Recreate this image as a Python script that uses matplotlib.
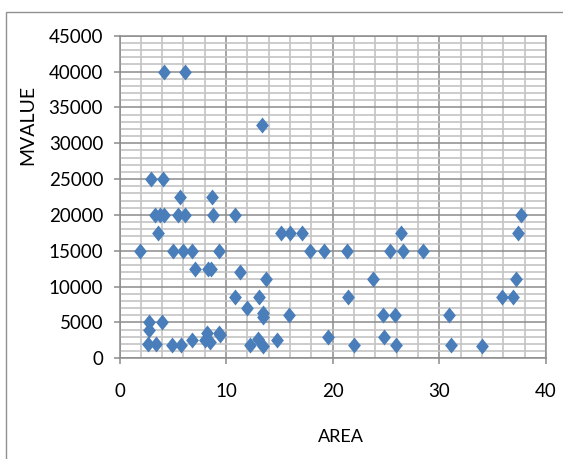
import matplotlib
matplotlib.use("Agg")
import matplotlib.pyplot as plt
from matplotlib.path import Path
from matplotlib.patches import Rectangle
from matplotlib.ticker import MultipleLocator

plt.rcParams['font.family'] = ['Lato', 'DejaVu Sans']

area = [4.15, 6.1, 13.4, 3.0, 4.1,
        5.7, 8.7,
        3.3, 3.8, 4.2, 5.5, 6.1, 8.8, 10.8, 37.7,
        3.6, 15.1, 16.0, 17.1, 26.4, 37.4,
        1.9, 5.0, 6.0, 6.8, 9.3, 17.9, 19.2, 21.3, 25.4, 26.6, 28.5,
        7.1, 8.3, 8.6, 11.3,
        13.7, 23.8, 37.2,
        10.8, 13.1, 21.4, 35.9, 36.9,
        12.0, 13.5, 13.5, 15.9, 24.7, 25.8, 30.9,
        2.8, 4.0, 2.8,
        8.2, 9.3, 9.4, 19.6, 24.8,
        6.8, 8.0, 8.5, 13.0, 14.8,
        2.7, 3.4, 4.9, 5.8, 12.2, 13.5, 22.0, 25.9, 31.1, 34.0]
mvalue = [40000, 40000, 32500, 25000, 25000,
          22500, 22500,
          20000, 20000, 20000, 20000, 20000, 20000, 20000, 20000,
          17500, 17500, 17500, 17500, 17500, 17500,
          15000, 15000, 15000, 15000, 15000, 15000, 15000, 15000, 15000, 15000, 15000,
          12500, 12500, 12500, 12000,
          11000, 11000, 11000,
          8500, 8500, 8500, 8500, 8500,
          7000, 6300, 5800, 6000, 6000, 6000, 6000,
          5000, 5000, 4000,
          3500, 3500, 3300, 3000, 3000,
          2500, 2500, 2300, 2700, 2500,
          2000, 2000, 1800, 1800, 1800, 1700, 1800, 1800, 1800, 1700]

x_ticks = [0, 10, 20, 30, 40]
y_ticks = [0, 5000, 10000, 15000, 20000, 25000, 30000, 35000, 40000, 45000]

W, H = 563, 459
fig = plt.figure(figsize=(W / 100, H / 100), dpi=100)

# outer chart frame
fig.patches.append(Rectangle((6 / W, -0.2), 1.2, 1.2 - 12 / H,
                             transform=fig.transFigure, fill=False,
                             edgecolor='#909090', linewidth=1.0, zorder=0))

left, right = 119.5 / W, 546 / W
top, bottom = 1 - 35.7 / H, 1 - 358.3 / H
ax = fig.add_axes([left, bottom, right - left, top - bottom])

diamond = Path([(0, 1), (0.8, 0), (0, -1), (-0.8, 0), (0, 1)],
               [Path.MOVETO, Path.LINETO, Path.LINETO, Path.LINETO, Path.CLOSEPOLY])

ax.set_xlim(0, 40)
ax.set_ylim(0, 45000)
ax.set_xticks(x_ticks)
ax.set_yticks(y_ticks)
ax.xaxis.set_minor_locator(MultipleLocator(2))
ax.yaxis.set_minor_locator(MultipleLocator(1000))
ax.grid(which='minor', color='#c4c4c4', linewidth=1.2, zorder=0)
ax.grid(which='major', color='#8c8c8c', linewidth=1.1, zorder=0.5)
ax.set_axisbelow(True)

ax.plot(area, mvalue, linestyle='none', marker=diamond, markersize=11.5,
        color='#4a7ebb', markeredgewidth=0, zorder=3, clip_on=False)

for s in ax.spines.values():
    s.set_color('#8c8c8c')
    s.set_linewidth(1.1)

ax.tick_params(which='minor', length=0)
ax.tick_params(axis='y', which='major', length=4.3, width=1.1, color='#8c8c8c',
               pad=7.5, labelsize=13.5, labelcolor='black')
ax.tick_params(axis='x', which='major', length=4.3, width=1.1, color='#8c8c8c',
               pad=13.5, labelsize=13.5, labelcolor='black')

fig.text(341 / W, 1 - 437 / H, 'AREA', ha='center', va='center', fontsize=13)
fig.text(28 / W, 1 - 125 / H, 'MVALUE', ha='center', va='center', rotation=90,
         fontsize=14)

fig.savefig('out.png', dpi=100)
